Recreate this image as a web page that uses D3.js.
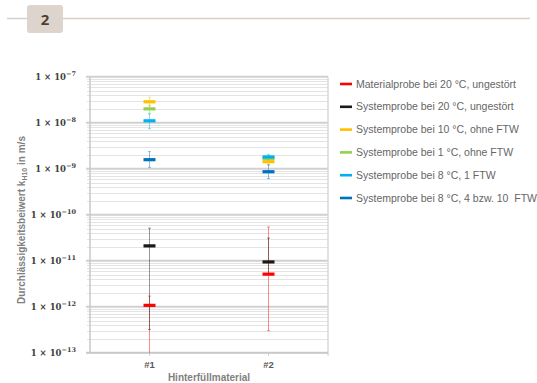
<!DOCTYPE html>
<html>
<head>
<meta charset="utf-8">
<script src="https://cdn.jsdelivr.net/npm/d3@7"></script>
<style>
  body { margin: 0; background: #fff; }
  svg { display: block; font-family: "Liberation Sans", Arial, sans-serif; }
</style>
</head>
<body>
<script>
// chart data
var categories = ["#1", "#2"];
var seriesNames = [
  "Materialprobe bei 20 °C, ungestört",
  "Systemprobe bei 20 °C, ungestört",
  "Systemprobe bei 10 °C, ohne FTW",
  "Systemprobe bei 1 °C, ohne FTW",
  "Systemprobe bei 8 °C, 1 FTW",
  "Systemprobe bei 8 °C, 4 bzw. 10  FTW"
];
var seriesColors = ["#ff0000", "#1a1a1a", "#ffc000", "#92d050", "#00b0f0", "#0070c0"];
// values per series: [#1, #2]
var values = [
  [1.07e-12, 5.1e-12],
  [2.1e-11, 9.4e-12],
  [2.85e-8, 1.42e-9],
  [2.0e-8, 1.68e-9],
  [1.1e-8, 1.8e-9],
  [1.57e-9, 8.6e-10]
];
var lower = [
  [2e-14, 3.0e-13],
  [3.2e-13, 5.0e-12],
  [2.3e-8, 1.2e-9],
  [1.6e-8, 1.5e-9],
  [7.4e-9, 1.6e-9],
  [1.07e-9, 6.1e-10]
];
var upper = [
  [1.7e-12, 5.4e-11],
  [5.1e-11, 3.1e-11],
  [3.6e-8, 1.7e-9],
  [2.4e-8, 1.9e-9],
  [1.55e-8, 2.05e-9],
  [2.35e-9, 1.22e-9]
];
var yTicks = [1e-7, 1e-8, 1e-9, 1e-10, 1e-11, 1e-12, 1e-13];

var svgWidth = 537, svgHeight = 383;
var svg = d3.select('body').append('svg')
  .attr('width', svgWidth)
  .attr('height', svgHeight);

// header with chapter number
svg.append('line')
  .attr('x1', 7).attr('x2', 530)
  .attr('y1', 18.5).attr('y2', 18.5)
  .attr('stroke', '#d8d0c9').attr('stroke-width', 1.5);
svg.append('rect')
  .attr('x', 27).attr('y', 5).attr('width', 36).attr('height', 28)
  .attr('rx', 3)
  .attr('fill', '#ddd4cd');
svg.append('text')
  .attr('x', 45).attr('y', 25)
  .attr('text-anchor', 'middle')
  .attr('font-family', '"Open Sans", "DejaVu Sans", sans-serif')
  .attr('font-weight', 'bold')
  .attr('font-size', 15)
  .attr('fill', '#4e4034')
  .text('2');

var plot = {left: 90, right: 328, top: 76.7, bottom: 352.7};

var yScale = d3.scaleLog().domain([1e-13, 1e-7]).range([plot.bottom, plot.top]);
var xScale = d3.scaleBand().domain(categories).range([plot.left, plot.right]);

// grid lines
var minor = [];
for (var e = -13; e < -7; e++) {
  for (var m = 2; m <= 9; m++) minor.push(m * Math.pow(10, e));
}
var grid = svg.append('g');
grid.selectAll('.minor').data(minor).enter().append('line')
  .attr('class', 'minor')
  .attr('x1', plot.left - 3).attr('x2', plot.right)
  .attr('y1', d => Math.round(yScale(d)) + 0.5)
  .attr('y2', d => Math.round(yScale(d)) + 0.5)
  .attr('stroke', '#e4e4e4').attr('stroke-width', 1);
grid.selectAll('.major').data(yTicks).enter().append('line')
  .attr('class', 'major')
  .attr('x1', plot.left - 4).attr('x2', plot.right)
  .attr('y1', d => yScale(d))
  .attr('y2', d => yScale(d))
  .attr('stroke', '#d0d0d0').attr('stroke-width', 2);

// left axis, right border, bottom axis
svg.append('line')
  .attr('x1', plot.left).attr('x2', plot.left)
  .attr('y1', plot.top).attr('y2', plot.bottom)
  .attr('stroke', '#c8c8c8').attr('stroke-width', 1.5);
svg.append('line')
  .attr('x1', plot.right).attr('x2', plot.right)
  .attr('y1', plot.top).attr('y2', plot.bottom + 3)
  .attr('stroke', '#d9d9d9').attr('stroke-width', 1.5);
svg.append('line')
  .attr('x1', plot.left - 4).attr('x2', plot.right)
  .attr('y1', plot.bottom).attr('y2', plot.bottom)
  .attr('stroke', '#c8c8c8').attr('stroke-width', 1.5);
svg.selectAll('.xtick').data(categories).enter().append('line')
  .attr('x1', d => xScale(d) + xScale.bandwidth() / 2)
  .attr('x2', d => xScale(d) + xScale.bandwidth() / 2)
  .attr('y1', plot.bottom).attr('y2', plot.bottom + 3)
  .attr('stroke', '#c8c8c8');

// y tick labels
var yLab = svg.selectAll('.ylab').data(yTicks).enter().append('text')
  .attr('x', 76)
  .attr('y', d => yScale(d) + 3)
  .attr('text-anchor', 'end')
  .attr('font-family', '"DejaVu Serif", serif')
  .attr('font-weight', 'bold')
  .attr('font-size', 8.5)
  .attr('fill', '#404040');
yLab.append('tspan').text('1 × 10');
yLab.append('tspan')
  .attr('dy', -4)
  .attr('font-size', 6.5)
  .text(d => '\u2212' + Math.round(-Math.log10(d)));

// x tick labels
svg.selectAll('.xlab').data(categories).enter().append('text')
  .attr('x', d => xScale(d) + xScale.bandwidth() / 2)
  .attr('y', 368)
  .attr('text-anchor', 'middle')
  .attr('font-weight', 'bold')
  .attr('font-size', 9.5)
  .attr('fill', '#595959')
  .text(d => d);

// axis titles
svg.append('text')
  .attr('x', 209).attr('y', 381)
  .attr('text-anchor', 'middle')
  .attr('font-weight', 'bold')
  .attr('font-size', 10)
  .attr('fill', '#7f7f7f')
  .text('Hinterfüllmaterial');

var yTitle = svg.append('text')
  .attr('transform', 'translate(25,220) rotate(-90)')
  .attr('text-anchor', 'middle')
  .attr('font-weight', 'bold')
  .attr('font-size', 10)
  .attr('fill', '#7f7f7f');
yTitle.append('tspan').text('Durchlässigkeitsbeiwert k');
yTitle.append('tspan').attr('dy', 2).attr('font-size', 7).text('H10');
yTitle.append('tspan').attr('dy', -2).text(' in m/s');

// error bars and markers
svg.append('clipPath').attr('id', 'plotclip')
  .append('rect')
  .attr('x', plot.left).attr('y', plot.top)
  .attr('width', plot.right - plot.left).attr('height', plot.bottom - plot.top);

var marks = svg.append('g').attr('clip-path', 'url(#plotclip)');
var points = [];
seriesNames.forEach(function(name, s) {
  categories.forEach(function(c, i) {
    points.push({s: s, cat: c, v: values[s][i], lo: lower[s][i], hi: upper[s][i]});
  });
});
var cx = d => xScale(d.cat) + xScale.bandwidth() / 2;

var err = marks.selectAll('.err').data(points).enter().append('g')
  .attr('class', 'err')
  .attr('stroke', d => seriesColors[d.s])
  .attr('stroke-opacity', 0.45)
  .attr('stroke-width', 1);
err.append('line')
  .attr('x1', cx).attr('x2', cx)
  .attr('y1', d => yScale(d.lo)).attr('y2', d => yScale(d.hi));
err.append('line')
  .attr('x1', d => cx(d) - 1.5).attr('x2', d => cx(d) + 1.5)
  .attr('y1', d => yScale(d.lo)).attr('y2', d => yScale(d.lo));
err.append('line')
  .attr('x1', d => cx(d) - 1.5).attr('x2', d => cx(d) + 1.5)
  .attr('y1', d => yScale(d.hi)).attr('y2', d => yScale(d.hi));

marks.selectAll('.mark').data(points).enter().append('rect')
  .attr('class', 'mark')
  .attr('x', d => cx(d) - 6)
  .attr('y', d => yScale(d.v) - 1.6)
  .attr('width', 12)
  .attr('height', 3.2)
  .attr('fill', d => seriesColors[d.s]);

// legend
var legend = svg.append('g');
var leg = legend.selectAll('.leg').data(seriesNames).enter().append('g')
  .attr('transform', (d, i) => 'translate(340,' + (84 + i * 22.8) + ')');
leg.append('rect')
  .attr('x', 0).attr('y', -1.3).attr('width', 12).attr('height', 2.6)
  .attr('fill', (d, i) => seriesColors[i]);
leg.append('text')
  .attr('x', 16).attr('y', 3.5)
  .attr('font-size', 10.5)
  .attr('fill', '#666666')
  .attr('xml:space', 'preserve')
  .style('white-space', 'pre')
  .text(d => d);
</script>
</body>
</html>
